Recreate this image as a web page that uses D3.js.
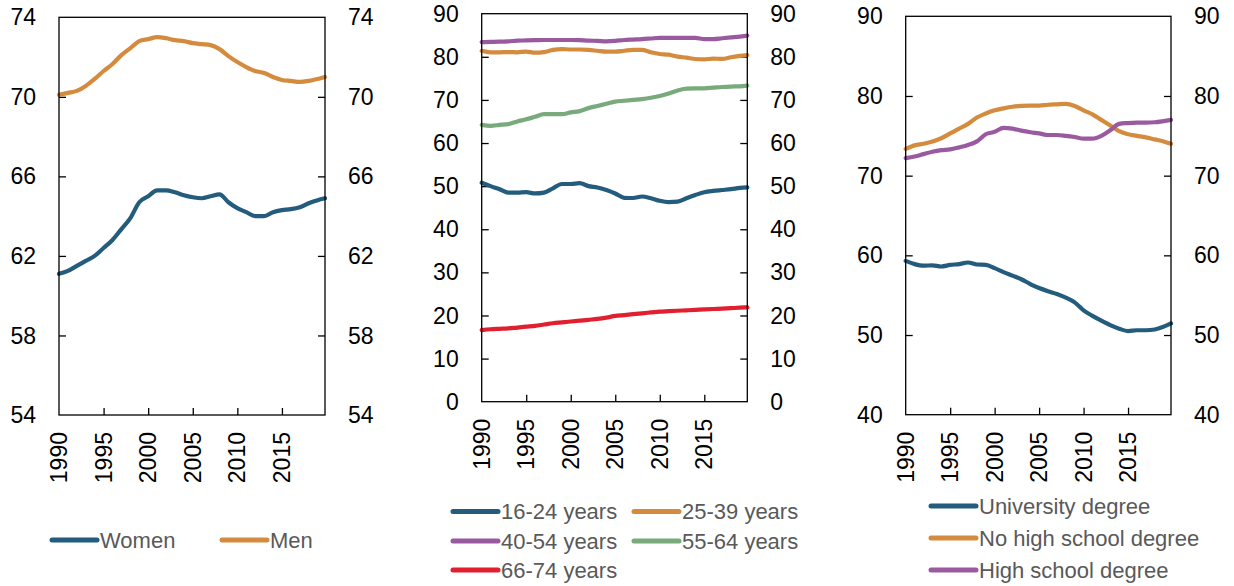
<!DOCTYPE html>
<html>
<head>
<meta charset="utf-8">
<script src="https://cdn.jsdelivr.net/npm/d3@7"></script>
<style>
  html, body { margin: 0; padding: 0; background: #fff; }
  svg { display: block; font-family: "Liberation Sans", Arial, sans-serif; }
</style>
</head>
<body>
<svg id="chart" width="1234" height="586"></svg>
<script>
// Years (last point = latest month of 2019)
const years = [1990,1991,1992,1993,1994,1995,1996,1997,1998,1999,2000,2001,2002,2003,2004,2005,2006,2007,2008,2009,2010,2011,2012,2013,2014,2015,2016,2017,2018,2019,2019.83];
const xTickYears = [1990, 1995, 2000, 2005, 2010, 2015];

// Panel 1: by sex
const women = [61.1,61.25,61.5,61.75,62.0,62.4,62.8,63.35,63.9,64.7,65.0,65.3,65.3,65.2,65.05,64.95,64.9,65.0,65.1,64.7,64.4,64.2,64.0,64.0,64.2,64.3,64.35,64.45,64.65,64.8,64.9];
const men = [70.1,70.2,70.3,70.55,70.9,71.3,71.65,72.1,72.45,72.8,72.9,73.0,72.95,72.85,72.8,72.7,72.65,72.6,72.4,72.05,71.75,71.5,71.3,71.2,71.0,70.85,70.8,70.75,70.8,70.9,71.0];
const sexTicks = [54, 58, 62, 66, 70, 74];

// Panel 2: by age group
const age16to24 = [50.8,50.0,49.3,48.5,48.5,48.6,48.3,48.5,49.5,50.5,50.5,50.7,50.0,49.7,49.1,48.3,47.3,47.25,47.6,47.2,46.6,46.3,46.4,47.2,47.95,48.6,48.9,49.1,49.3,49.6,49.7];
const age25to39 = [81.4,81.05,81.05,81.1,81.05,81.2,80.95,81.1,81.6,81.8,81.7,81.7,81.6,81.4,81.2,81.2,81.4,81.6,81.6,81.05,80.65,80.5,80.05,79.8,79.5,79.4,79.6,79.5,79.9,80.2,80.4];
const age40to54 = [83.4,83.45,83.5,83.6,83.75,83.8,83.85,83.9,83.9,83.9,83.9,83.85,83.75,83.7,83.6,83.7,83.9,84.0,84.1,84.25,84.4,84.4,84.4,84.4,84.4,84.1,84.1,84.3,84.5,84.7,84.9];
const age55to64 = [64.2,64.0,64.2,64.4,65.0,65.5,66.1,66.7,66.7,66.7,67.1,67.4,68.1,68.6,69.1,69.6,69.8,70.0,70.2,70.5,70.9,71.5,72.2,72.6,72.7,72.7,72.85,73.0,73.1,73.15,73.3];
const age66to74 = [16.6,16.8,16.9,17.0,17.2,17.4,17.6,17.9,18.2,18.4,18.6,18.8,19.0,19.2,19.5,19.9,20.1,20.3,20.5,20.7,20.9,21.0,21.1,21.2,21.3,21.4,21.5,21.6,21.7,21.8,21.9];
const ageTicks = [0, 10, 20, 30, 40, 50, 60, 70, 80, 90];

// Panel 3: by education
const university = [59.3,58.9,58.7,58.75,58.6,58.8,58.9,59.1,58.85,58.8,58.4,57.9,57.45,57.0,56.4,55.9,55.5,55.15,54.7,54.1,53.1,52.4,51.8,51.25,50.8,50.5,50.6,50.6,50.7,51.05,51.45];
const noHighSchool = [73.35,73.8,74.0,74.3,74.7,75.3,75.9,76.5,77.3,77.8,78.2,78.45,78.65,78.75,78.8,78.8,78.9,78.95,79.0,78.75,78.2,77.7,77.0,76.3,75.6,75.2,75.0,74.8,74.55,74.3,74.0];
const highSchool = [72.2,72.4,72.7,73.0,73.2,73.3,73.55,73.85,74.3,75.2,75.5,76.0,75.9,75.65,75.45,75.3,75.1,75.1,75.0,74.85,74.65,74.65,75.0,75.7,76.5,76.6,76.65,76.65,76.7,76.85,77.0];
const eduTicks = [40, 50, 60, 70, 80, 90];

const C = {
  blue: "#235c7d",
  orange: "#d58b3d",
  purple: "#9a5aa0",
  green: "#79aa7c",
  red: "#e01f2f"
};

const svg = d3.select("#chart");

function panel(cfg) {
  const g = svg.append("g");
  const x = d3.scaleLinear().domain([1990, 2019.83]).range([cfg.left, cfg.right]);
  const y = d3.scaleLinear().domain([cfg.ticks[0], cfg.ticks[cfg.ticks.length - 1]]).range([cfg.bottom, cfg.top]);

  // inward ticks on both sides
  const inner = cfg.ticks.slice(1, -1);
  const left = d3.axisLeft(y).tickValues(inner).tickSize(-7).tickFormat("");
  const right = d3.axisRight(y).tickValues(inner).tickSize(-7).tickFormat("");
  const bottom = d3.axisBottom(x).tickValues(xTickYears.slice(1)).tickSize(-7).tickFormat("");
  [[left, `translate(${cfg.left},0)`], [right, `translate(${cfg.right},0)`], [bottom, `translate(0,${cfg.bottom})`]]
    .forEach(([ax, tr]) => {
      const a = g.append("g").attr("transform", tr).call(ax);
      a.select(".domain").remove();
      a.selectAll("line").attr("stroke", "#000").attr("stroke-width", 1.3);
    });

  // tick labels
  g.selectAll(".yl").data(cfg.ticks).join("text")
    .attr("x", cfg.left - 23).attr("y", d => y(d)).attr("dy", "0.35em")
    .attr("text-anchor", "end").attr("font-size", 23).attr("fill", "#000").text(d => d);
  g.selectAll(".yr").data(cfg.ticks).join("text")
    .attr("x", cfg.right + 23).attr("y", d => y(d)).attr("dy", "0.35em")
    .attr("text-anchor", "start").attr("font-size", 23).attr("fill", "#000").text(d => d);
  g.selectAll(".xl").data(xTickYears).join("text")
    .attr("transform", d => `translate(${x(d)},${cfg.bottom + 17}) rotate(-90)`)
    .attr("dy", "0.35em").attr("text-anchor", "end")
    .attr("font-size", 23).attr("fill", "#000").text(d => d);

  // series lines
  const line = d3.line().x((d, i) => x(years[i])).y(d => y(d)).curve(d3.curveMonotoneX);
  cfg.series.forEach(s => {
    g.append("path").datum(s.values).attr("d", line)
      .attr("fill", "none").attr("stroke", s.color).attr("stroke-width", 4.2)
      .attr("stroke-linecap", "round").attr("stroke-linejoin", "round");
  });

  // frame
  g.append("rect").attr("x", cfg.left).attr("y", cfg.top)
    .attr("width", cfg.right - cfg.left).attr("height", cfg.bottom - cfg.top)
    .attr("fill", "none").attr("stroke", "#000").attr("stroke-width", 1.3);

  // legend
  cfg.series.forEach(s => {
    const lg = g.append("g").attr("transform", `translate(${s.lx},${s.ly})`);
    lg.append("line").attr("x1", 0).attr("x2", 45).attr("y1", 0).attr("y2", 0)
      .attr("stroke", s.color).attr("stroke-width", 5).attr("stroke-linecap", "round");
    lg.append("text").attr("x", 48).attr("y", 0).attr("dy", "0.35em")
      .attr("font-size", 22).attr("fill", "#595959").text(s.name);
  });
}

panel({
  left: 59, right: 325, top: 17.3, bottom: 415, ticks: sexTicks,
  series: [
    { name: "Women", values: women, color: C.blue, lx: 52, ly: 540 },
    { name: "Men", values: men, color: C.orange, lx: 222, ly: 540 }
  ]
});

panel({
  left: 481.7, right: 747.3, top: 13.7, bottom: 401.7, ticks: ageTicks,
  series: [
    { name: "66-74 years", values: age66to74, color: C.red, lx: 453, ly: 570 },
    { name: "55-64 years", values: age55to64, color: C.green, lx: 634, ly: 541 },
    { name: "16-24 years", values: age16to24, color: C.blue, lx: 453, ly: 511.5 },
    { name: "25-39 years", values: age25to39, color: C.orange, lx: 634, ly: 511.5 },
    { name: "40-54 years", values: age40to54, color: C.purple, lx: 453, ly: 541 }
  ]
});

panel({
  left: 905.7, right: 1171, top: 16.3, bottom: 414.7, ticks: eduTicks,
  series: [
    { name: "University degree", values: university, color: C.blue, lx: 931, ly: 506 },
    { name: "No high school degree", values: noHighSchool, color: C.orange, lx: 931, ly: 538 },
    { name: "High school degree", values: highSchool, color: C.purple, lx: 931, ly: 570 }
  ]
});
</script>
</body>
</html>
